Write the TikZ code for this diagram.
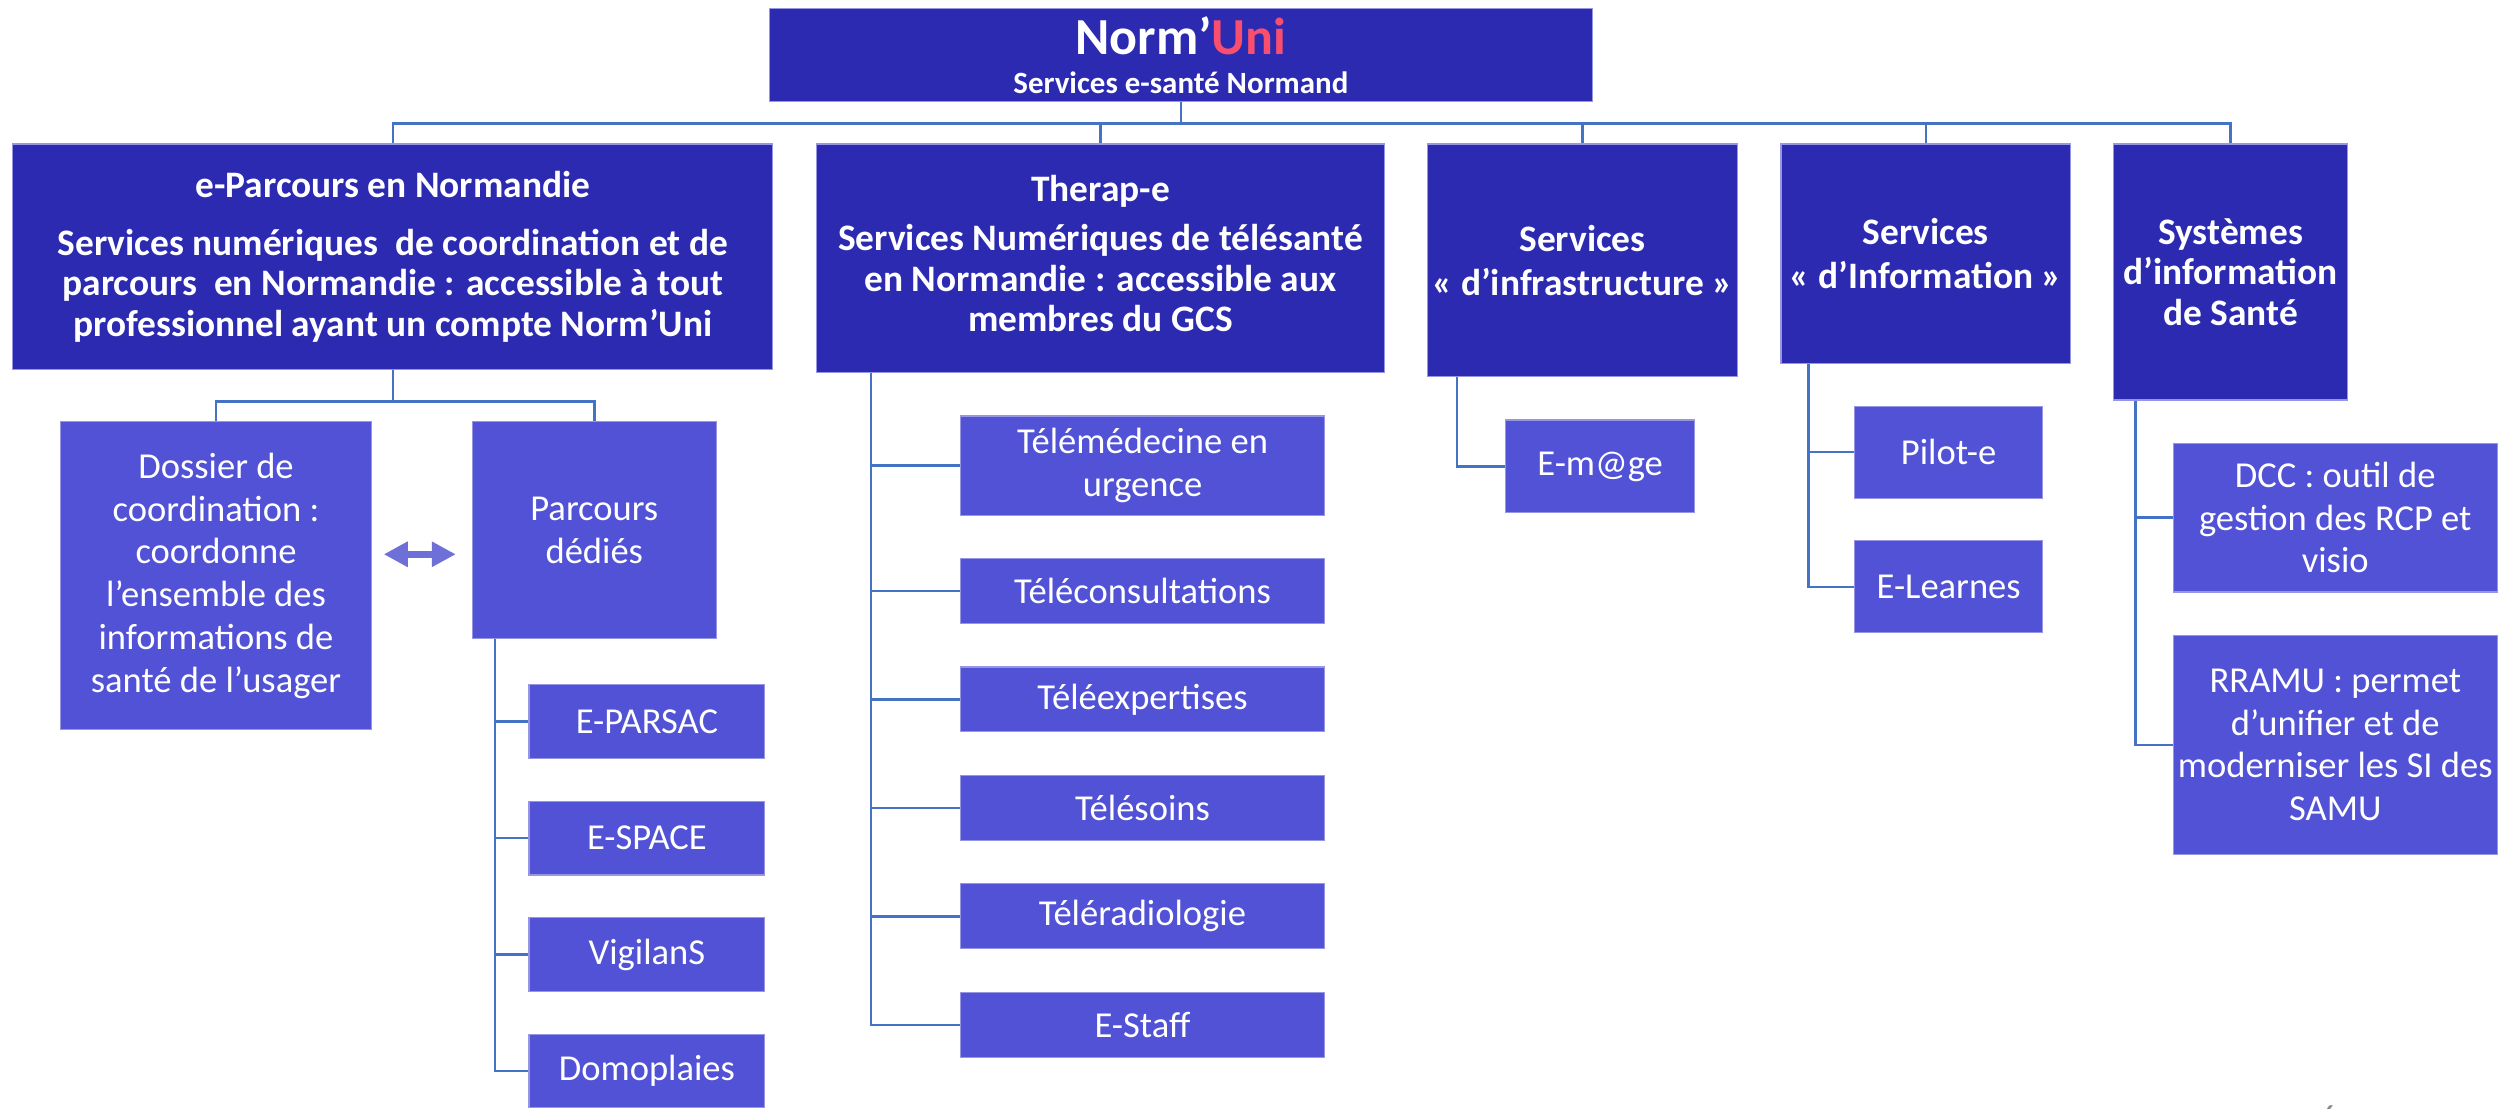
\documentclass[tikz,border=0pt]{standalone}
\usepackage{fontspec}
\setmainfont{Carlito}
\usetikzlibrary{arrows.meta,calc}
\definecolor{normdark}{RGB}{43,42,177}
\definecolor{normlight}{RGB}{82,82,214}
\definecolor{normedge}{RGB}{150,150,228}
\definecolor{normlink}{RGB}{68,114,196}
\definecolor{normarrow}{RGB}{110,112,216}
\definecolor{normpink}{RGB}{250,78,110}
\definecolor{normgray}{RGB}{137,137,137}

\begin{document}
\begin{tikzpicture}[x=0.02cm,y=-0.02cm,
	head/.style={fill=normdark,draw=normedge,line width=0.4pt,text=white,align=center,inner sep=0pt,font=\fontsize{13.3}{14.5}\selectfont\bfseries},
	leaf/.style={fill=normlight,draw=normedge,line width=0.4pt,text=white,align=center,inner sep=0pt,font=\fontsize{13}{15.2}\selectfont},
	link/.style={draw=normlink,line width=0.9pt},
	both/.style={{Triangle[width=0.3cm,length=0.3cm]}-{Triangle[width=0.3cm,length=0.3cm]},draw=normarrow,line width=2.6pt}]
	\useasboundingbox (0,0) rectangle (1568,693);

	% top of the tree
	\node[head,minimum width=10.28cm,minimum height=1.162cm,font=\fontsize{11}{12.4}\selectfont\bfseries] (top) at (738,34.45)
		{{\fontsize{18.5}{20}\selectfont Norm’\textcolor{normpink}{Uni}}\\[1.5pt]Services e-santé Normand};

	% first level
	\node[head,minimum width=9.5cm,minimum height=2.82cm] (epar) at (245.5,160.5)
		{e-Parcours en Normandie\\[6pt]Services numériques~ de coordination et de\\parcours~ en Normandie : accessible à tout\\professionnel ayant un compte Norm’Uni};
	\node[head,minimum width=7.11cm,minimum height=2.86cm] (therap) at (687.75,161.5)
		{Therap-e\\[3pt]Services Numériques de télésanté\\en Normandie : accessible aux\\membres du GCS\\[-11pt]\mbox{}};
	\node[head,minimum width=3.88cm,minimum height=2.91cm] (infra) at (989,162.75) {Services\\[1pt]« d’infrastructure »};
	\node[head,minimum width=3.62cm,minimum height=2.74cm] (info) at (1203.5,158.5) {Services\\[1pt]« d’Information »};
	\node[head,minimum width=2.92cm,minimum height=3.2cm] (sis) at (1394,170) {Systèmes\\d’information\\de Santé};

	% e-Parcours
	\node[leaf,minimum width=3.88cm,minimum height=3.85cm] (dossier) at (135,359.8)
		{Dossier de\\coordination :\\coordonne\\l’ensemble des\\informations de\\santé de l’usager};
	\node[leaf,minimum width=3.05cm,minimum height=2.71cm] (pdedies) at (371.4,331.3) {Parcours\\dédiés};
	\node[leaf,minimum width=2.95cm,minimum height=0.92cm] (eparsac) at (404.3,451) {E-PARSAC};
	\node[leaf,minimum width=2.95cm,minimum height=0.92cm] (espace) at (404.3,523.8) {E-SPACE};
	\node[leaf,minimum width=2.95cm,minimum height=0.92cm] (vigilans) at (404.3,596.6) {VigilanS};
	\node[leaf,minimum width=2.95cm,minimum height=0.92cm] (domo) at (404.3,669.4) {Domoplaies};

	% Therap-e
	\node[leaf,minimum width=4.56cm,minimum height=1.24cm] (tmed) at (714,291) {Télémédecine en\\urgence};
	\node[leaf,minimum width=4.56cm,minimum height=0.81cm] (tcons) at (714,369.3) {Téléconsultations};
	\node[leaf,minimum width=4.56cm,minimum height=0.81cm] (texp) at (714,437.1) {Téléexpertises};
	\node[leaf,minimum width=4.56cm,minimum height=0.81cm] (tsoin) at (714,504.9) {Télésoins};
	\node[leaf,minimum width=4.56cm,minimum height=0.81cm] (trad) at (714,572.6) {Téléradiologie};
	\node[leaf,minimum width=4.56cm,minimum height=0.81cm] (estaff) at (714,640.6) {E-Staff};

	% infrastructure, information, SI
	\node[leaf,minimum width=2.36cm,minimum height=1.16cm] (emage) at (1000,291.5) {E-m@ge};
	\node[leaf,minimum width=2.35cm,minimum height=1.15cm] (pilot) at (1217.8,282.6) {Pilot-e};
	\node[leaf,minimum width=2.35cm,minimum height=1.15cm] (elearn) at (1217.8,366.7) {E-Learnes};
	\node[leaf,minimum width=4.05cm,minimum height=1.86cm] (dcc) at (1459.4,323.5) {DCC : outil de\\gestion des RCP et\\visio};
	\node[leaf,minimum width=4.05cm,minimum height=2.74cm] (rramu) at (1459.4,465.5)
		{RRAMU : permet\\d’unifier et de\\moderniser les SI des\\SAMU};

	\node[anchor=north,inner sep=0pt,text=normgray,font=\fontsize{12}{14}\selectfont] (page) at (1455,690.5) {6};

	% links
	\draw[link] (top.south) -- ++(0,13.4) -| (epar.north);
	\draw[link] (top.south) -- ++(0,13.4) -| (therap.north);
	\draw[link] (top.south) -- ++(0,13.4) -| (infra.north);
	\draw[link] (top.south) -- ++(0,13.4) -| (info.north);
	\draw[link] (top.south) -- ++(0,13.4) -| (sis.north);

	\draw[link] (epar.south) -- ++(0,19.5) -| (dossier.north);
	\draw[link] (epar.south) -- ++(0,19.5) -| (pdedies.north);
	\coordinate (mid) at (0,346.4);
	\draw[both,shorten <=0.15cm,shorten >=0.2cm] (dossier.east |- mid) -- (pdedies.west |- mid);

	\draw[link] ($(pdedies.south west)+(14.6,0)$) |- (eparsac.west);
	\draw[link] ($(pdedies.south west)+(14.6,0)$) |- (espace.west);
	\draw[link] ($(pdedies.south west)+(14.6,0)$) |- (vigilans.west);
	\draw[link] ($(pdedies.south west)+(14.6,0)$) |- (domo.west);

	\draw[link] ($(therap.south west)+(34.5,0)$) |- (tmed.west);
	\draw[link] ($(therap.south west)+(34.5,0)$) |- (tcons.west);
	\draw[link] ($(therap.south west)+(34.5,0)$) |- (texp.west);
	\draw[link] ($(therap.south west)+(34.5,0)$) |- (tsoin.west);
	\draw[link] ($(therap.south west)+(34.5,0)$) |- (trad.west);
	\draw[link] ($(therap.south west)+(34.5,0)$) |- (estaff.west);

	\draw[link] ($(infra.south west)+(18.8,0)$) |- (emage.west);
	\draw[link] ($(info.south west)+(17.7,0)$) |- (pilot.west);
	\draw[link] ($(info.south west)+(17.7,0)$) |- (elearn.west);
	\draw[link] ($(sis.south west)+(14,0)$) |- (dcc.west);
	\draw[link] ($(sis.south west)+(14,0)$) |- (rramu.west);
\end{tikzpicture}
\end{document}
